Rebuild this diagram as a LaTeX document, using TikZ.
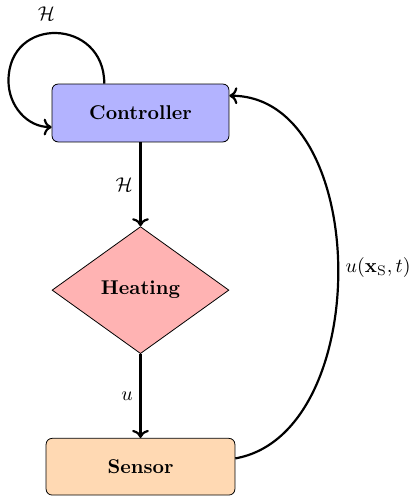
\documentclass[tikz,border=0pt]{standalone}
\usepackage{amsmath}
\definecolor{CtrlBlue}{HTML}{B3B3FF}
\definecolor{HeatRed}{HTML}{FFB3B3}
\definecolor{SensorOrange}{HTML}{FFD9B3}
\usetikzlibrary{arrows.meta,positioning,shapes.geometric}
\tikzset{
  blockNode/.style={draw, rounded corners=3pt, align=center, minimum height=1.02cm, font=\bfseries},
  ctrlNode/.style={blockNode, fill=CtrlBlue, minimum width=3.12cm},
  sensorNode/.style={blockNode, fill=SensorOrange, minimum width=3.33cm, minimum height=1cm},
  heatNode/.style={draw, diamond, fill=HeatRed, align=center, minimum width=3.12cm, minimum height=2.24cm, inner sep=1pt, font=\bfseries},
  arrow/.style={->, line width=1.1pt}
}

\begin{document}
\begin{tikzpicture}[node distance=1.48cm]
\useasboundingbox (-2.478,-6.755) rectangle (4.753,1.993);
\node[ctrlNode] (ctrl) at (0,0) {Controller};
\node[heatNode, below=of ctrl] (heat) {Heating};
\node[sensorNode, below=of heat] (sensor) {Sensor};
\draw[arrow] (ctrl) -- node[left] {$\mathcal{H}$} (heat);
\draw[arrow] (heat) -- node[left] {$u$} (sensor);
\draw[arrow] (ctrl.141) to[out=90, in=90, looseness=1.75] node[above=2.5pt, pos=0.57] {$\mathcal{H}$} ++(-1.69cm,0.05cm) to[out=-90, in=180] (ctrl.189);
\draw[arrow] (sensor.5) to[out=10, in=0, looseness=1] node[right] {$u(\mathbf{x}_\mathrm{S},t)$} (ctrl.11);
\end{tikzpicture}
\end{document}
